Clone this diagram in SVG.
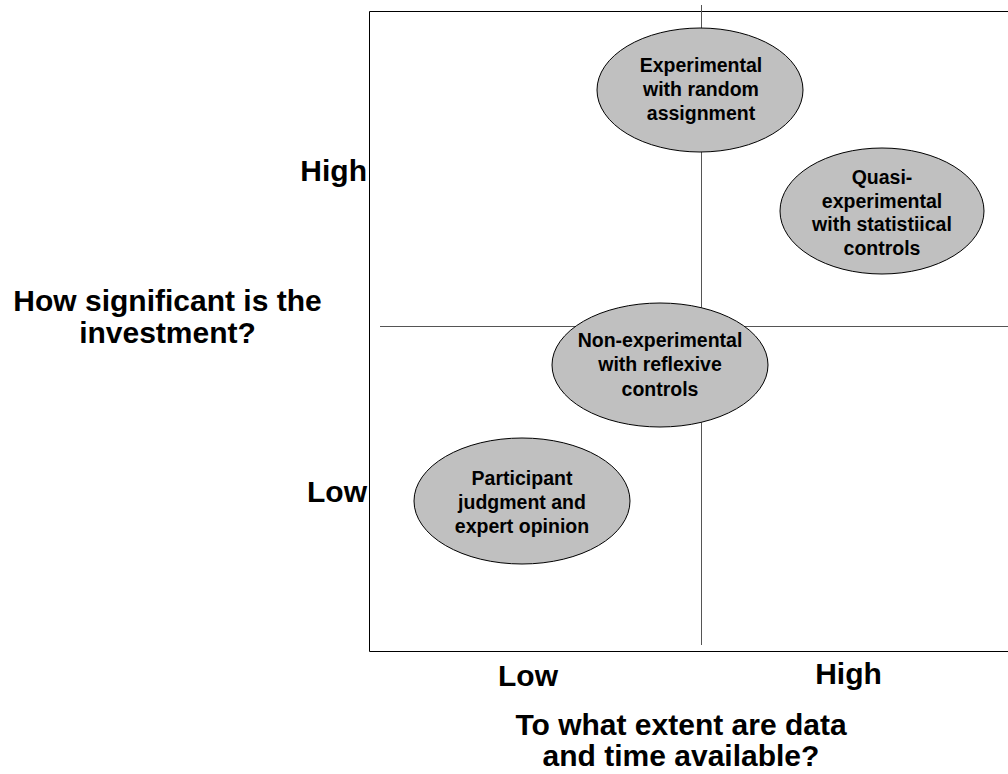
<svg xmlns="http://www.w3.org/2000/svg" width="1008" height="774" viewBox="0 0 1008 774">
<style>
text{font-family:"Liberation Sans",Arial,sans-serif;font-weight:bold;fill:#000}
.ax{font-size:30px}
.nd{font-size:19.5px;text-anchor:middle}
.el{fill:#c0c0c0;stroke:#000;stroke-width:1}
.div{stroke:#555;stroke-width:1;fill:none}
</style>
<rect width="1008" height="774" fill="#fff"/>
<g id="frame">
<path d="M1010 11.5H369.5V651.5H1010" fill="none" stroke="#000" stroke-width="1"/>
</g>
<g id="connectors">
<line class="div" x1="701.5" y1="5" x2="701.5" y2="645"/>
<line class="div" x1="380" y1="326.5" x2="1008" y2="326.5"/>
</g>
<g id="axis-labels">
<text class="ax" x="367" y="181" text-anchor="end">High</text>
<text class="ax" x="367" y="502" text-anchor="end">Low</text>
<text class="ax" x="167.5" y="311" text-anchor="middle">How significant is the</text>
<text class="ax" x="167.5" y="343" text-anchor="middle">investment?</text>
<text class="ax" x="528" y="686" text-anchor="middle">Low</text>
<text class="ax" x="848.5" y="684" text-anchor="middle">High</text>
<text class="ax" x="681" y="735" text-anchor="middle">To what extent are data</text>
<text class="ax" x="681" y="766" text-anchor="middle">and time available?</text>
</g>
<g id="node-experimental">
<ellipse class="el" cx="700" cy="90" rx="103" ry="62"/>
<text class="nd" x="701" y="72">Experimental</text>
<text class="nd" x="701" y="96">with random</text>
<text class="nd" x="701" y="120">assignment</text>
</g>
<g id="node-quasi">
<ellipse class="el" cx="882" cy="211" rx="102" ry="63"/>
<text class="nd" x="882" y="184">Quasi-</text>
<text class="nd" x="882" y="207.5">experimental</text>
<text class="nd" x="882" y="231">with statistiical</text>
<text class="nd" x="882" y="254.5">controls</text>
</g>
<g id="node-nonexperimental">
<ellipse class="el" cx="660" cy="365" rx="108" ry="62"/>
<text class="nd" x="660" y="346.5">Non-experimental</text>
<text class="nd" x="660" y="371">with reflexive</text>
<text class="nd" x="660" y="395.5">controls</text>
</g>
<g id="node-participant">
<ellipse class="el" cx="522" cy="501" rx="108" ry="63"/>
<text class="nd" x="522" y="485">Participant</text>
<text class="nd" x="522" y="509">judgment and</text>
<text class="nd" x="522" y="533">expert opinion</text>
</g>
</svg>
